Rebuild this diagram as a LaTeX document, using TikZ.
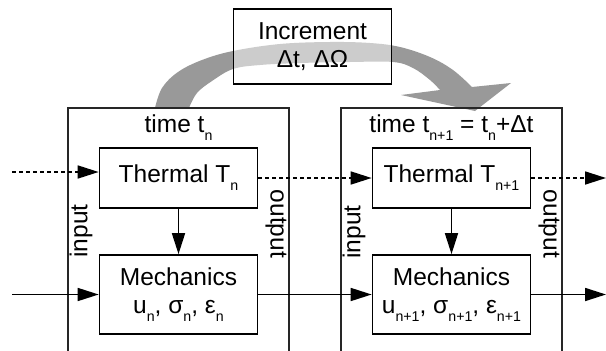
\documentclass[tikz,border=0pt]{standalone}
\usepackage{fontspec}
\setmainfont{Liberation Sans}
\usetikzlibrary{arrows.meta}
\newcommand{\sbs}[1]{\raisebox{-8pt}{\fontsize{14.2}{14.2}\selectfont #1}}
\begin{document}
\begin{tikzpicture}[x=1pt,y=-1pt,
  lbl/.style={font=\fontsize{24.5}{28}\selectfont, text=black, inner sep=0pt},
  box/.style={draw=black, line width=1.7pt, align=center, lbl, minimum width=158pt},
  frame/.style={draw=black!85, line width=1.7pt},
  flow/.style={draw=black, line width=1.7pt, -{Triangle[length=21pt,width=13pt]}},
  dflow/.style={flow, dash pattern=on 4pt off 3pt},
  bigarrow/.style={fill=black!40},
]
\useasboundingbox (0,0) rectangle (606,351);
\fill[white] (0,0) rectangle (606,351);

% curved grey increment arrow
\fill[bigarrow] plot[smooth,tension=0.6] coordinates {(155,108) (162,88) (178,72) (202,60) (233,51) (280,44) (330,42) (370,43) (400,47) (430,57) (453,70) (472,87)}
  -- (511,83) -- (475,111) -- (401,95)
  -- plot[smooth,tension=0.6] coordinates {(440,90) (430,80) (413,68) (393,62) (350,62) (300,63) (260,65) (233,69) (212,81) (197,93) (189,108)} -- cycle;

\node[box, minimum height=75pt, fill=white, fill opacity=0.5, text opacity=1] (inc) at (312.5,46.5) {Increment\\Δt, ΔΩ};

% time frames
\draw[frame] (68,351) -- (68,108) -- (289,108) -- (289,351);
\draw[frame] (341,351) -- (341,108) -- (562,108) -- (562,351);

\node[lbl, anchor=base] (tl) at (178.5,132) {time t\sbs{n}};
\node[lbl, anchor=base] (tr) at (451.5,132) {time t\sbs{n+1} = t\sbs{n}+Δt};

\node[box, minimum height=60pt] (thL) at (178.5,178) {Thermal T\sbs{n}};
\node[box, minimum height=79pt] (meL) at (178.5,294.5) {Mechanics\\u\sbs{n}, σ\sbs{n}, ε\sbs{n}};
\node[box, minimum height=60pt] (thR) at (451.5,178) {Thermal T\sbs{n+1}};
\node[box, minimum height=79pt] (meR) at (451.5,294.5) {Mechanics\\u\sbs{n+1}, σ\sbs{n+1}, ε\sbs{n+1}};

\node[lbl, rotate=90] (inL) at (81,231) {input};
\node[lbl, rotate=-90] (outL) at (276,224) {output};
\node[lbl, rotate=90] (inR) at (354,232) {input};
\node[lbl, rotate=-90] (outR) at (549,224) {output};

% connectors
\coordinate (dIn) at (12,172);
\coordinate (dOut) at (606,178);
\coordinate (sIn) at (12,294.5);
\coordinate (sOut) at (606,294.5);
\draw[dflow] (dIn) -- (dIn -| thL.west);
\draw[dflow] (thL.east) -- (thR.west);
\draw[dflow] (thR.east) -- (dOut);
\draw[flow] (sIn) -- (meL.west);
\draw[flow] (meL.east) -- (meR.west);
\draw[flow] (meR.east) -- (sOut);
\draw[flow] (thL.south) -- (meL.north);
\draw[flow] (thR.south) -- (meR.north);
\end{tikzpicture}
\end{document}
